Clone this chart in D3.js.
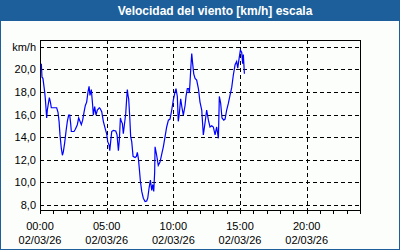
<!DOCTYPE html>
<html>
<head>
<meta charset="utf-8">
<script src="https://cdn.jsdelivr.net/npm/d3@7"></script>
<style>
  html, body { margin: 0; padding: 0; background: #fcfefc; }
  svg { display: block; }
  text { font-family: "Liberation Sans", Arial, sans-serif; }
</style>
</head>
<body>
<div id="chart"></div>
<script>
// wind speed samples, hours since 02/03/26 00:00
const hours = [0.10,0.15,0.22,0.35,0.40,0.50,0.55,0.70,0.78,0.85,
  1.10,1.25,1.35,1.43,1.50,1.60,1.68,1.75,1.85,1.95,
  2.05,2.15,2.23,2.30,2.35,2.55,2.65,2.80,2.90,3.00,
  3.10,3.20,3.30,3.40,3.50,3.60,3.68,3.75,3.85,3.95,
  4.00,4.10,4.20,4.30,4.45,4.50,4.63,4.75,4.88,5.00,
  5.08,5.18,5.23,5.30,5.38,5.50,5.68,5.78,5.88,5.95,
  6.03,6.10,6.18,6.25,6.33,6.43,6.50,6.55,6.60,6.65,
  6.73,6.80,6.88,6.98,7.13,7.23,7.30,7.38,7.45,7.53,
  7.63,7.75,7.88,8.00,8.08,8.18,8.28,8.38,8.45,8.53,
  8.60,8.63,8.75,8.87,9.00,9.13,9.25,9.38,9.50,9.63,
  9.75,9.88,10.00,10.13,10.20,10.30,10.37,10.45,10.55,10.65,
  10.75,10.88,10.95,11.05,11.15,11.20,11.25,11.33,11.38,11.45,
  11.53,11.63,11.75,11.88,12.00,12.13,12.25,12.38,12.50,12.63,
  12.75,12.88,13.00,13.13,13.25,13.38,13.45,13.55,13.65,13.78,
  13.88,14.00,14.13,14.25,14.38,14.50,14.63,14.75,14.83,14.95,
  15.03,15.13,15.20,15.25,15.33];

const speed = [20.5,19.3,19.2,18.0,17.4,15.7,16.4,17.5,17.1,16.6,
  16.6,16.6,16.2,15.4,14.2,13.0,12.4,12.7,13.5,14.5,
  15.4,15.95,15.95,15.2,14.5,14.5,14.7,15.1,15.7,15.4,
  15.1,15.5,16.2,16.8,17.1,18.0,18.5,17.7,18.2,16.8,
  15.95,16.7,15.95,16.4,16.6,16.55,16.25,15.4,14.8,14.3,
  13.6,13.3,12.8,13.6,14.5,14.6,14.55,14.2,12.8,13.75,
  15.7,15.4,15.2,14.3,15.1,16.1,17.4,18.2,17.7,17.4,
  15.8,14.05,13.6,12.3,12.2,12.3,12.65,12.1,11.2,10.1,
  9.2,8.6,8.3,8.35,8.6,9.5,10.2,9.3,9.8,9.2,
  10.9,13.15,12.4,11.5,11.8,12.5,13.15,14.05,14.9,15.5,
  15.6,16.4,17.3,18.0,18.3,17.6,15.4,16.1,17.4,16.6,
  15.95,16.8,17.6,18.3,18.3,17.9,18.8,20.5,21.4,20.5,
  19.6,19.2,19.05,18.3,17.1,16.4,14.2,15.3,16.4,15.5,
  14.9,15.0,14.9,14.2,14.9,13.9,17.6,17.0,15.7,15.5,
  15.6,16.4,17.0,17.7,18.4,19.5,20.4,20.7,20.1,21.1,
  21.7,21.5,20.5,21.3,19.6];

const yTicks = [8, 10, 12, 14, 16, 18, 20, 22];
const xTicks = [0, 5, 10, 15, 20];
const dateLabel = '02/03/26';
const title = 'Velocidad del viento [km/h] escala';

const width = 400, height = 250;
const blue = '#1d5f9b';
const plot = {left: 40, right: 360, top: 40, bottom: 210};

const svg = d3.select('#chart').append('svg')
  .attr('width', width)
  .attr('height', height);

svg.append('rect')
  .attr('x', 0.5).attr('y', 0.5)
  .attr('width', width - 1).attr('height', height - 1)
  .attr('fill', '#fcfefc')
  .attr('stroke', blue);

svg.append('rect')
  .attr('x', 0).attr('y', 0)
  .attr('width', width).attr('height', 21)
  .attr('fill', blue);

svg.append('text')
  .attr('x', 215).attr('y', 15)
  .attr('text-anchor', 'middle')
  .attr('fill', '#ffffff')
  .attr('font-weight', 'bold')
  .attr('font-size', '12px')
  .text(title);

const x = d3.scaleLinear().domain([0, 24]).range([plot.left, plot.right]);
const y = d3.scaleLinear().domain([8, 22]).range([205, 46.7]);

// grid
const grid = svg.append('g')
  .attr('stroke', '#000')
  .attr('stroke-dasharray', '4,3')
  .attr('shape-rendering', 'crispEdges');

grid.selectAll('.hgrid')
  .data(yTicks)
  .enter().append('line')
  .attr('class', 'hgrid')
  .attr('x1', plot.left).attr('x2', plot.right)
  .attr('y1', (d) => Math.round(y(d)) + 0.5)
  .attr('y2', (d) => Math.round(y(d)) + 0.5);

grid.selectAll('.vgrid')
  .data(xTicks.filter((d) => d > 0))
  .enter().append('line')
  .attr('class', 'vgrid')
  .attr('y1', plot.top).attr('y2', plot.bottom)
  .attr('x1', (d) => Math.round(x(d)) + 0.5)
  .attr('x2', (d) => Math.round(x(d)) + 0.5);

// data line
const line = d3.line()
  .x((d, i) => x(hours[i]))
  .y((d) => y(d));

svg.append('path')
  .datum(speed)
  .attr('fill', 'none')
  .attr('stroke', '#0000ff')
  .attr('stroke-width', 1.2)
  .attr('d', line);

// frame
svg.append('rect')
  .attr('x', plot.left + 0.5).attr('y', plot.top + 0.5)
  .attr('width', plot.right - plot.left).attr('height', plot.bottom - plot.top)
  .attr('fill', 'none')
  .attr('stroke', '#000')
  .attr('shape-rendering', 'crispEdges');

// hourly ticks under the axis
svg.append('g')
  .attr('stroke', '#000')
  .attr('shape-rendering', 'crispEdges')
  .selectAll('line')
  .data(d3.range(0, 25))
  .enter().append('line')
  .attr('x1', (d) => Math.round(x(d)) + 0.5)
  .attr('x2', (d) => Math.round(x(d)) + 0.5)
  .attr('y1', plot.bottom).attr('y2', plot.bottom + 4);

// y labels
svg.append('g')
  .selectAll('text')
  .data(yTicks)
  .enter().append('text')
  .attr('x', 36)
  .attr('y', (d) => y(d) + 4)
  .attr('text-anchor', 'end')
  .attr('font-size', '11px')
  .attr('fill', '#000')
  .text((d) => d === 22 ? 'km/h' : d3.format('.1f')(d).replace('.', ','));

// x labels
const xl = svg.append('g')
  .selectAll('g')
  .data(xTicks)
  .enter().append('g')
  .attr('transform', (d) => 'translate(' + x(d) + ',0)');

xl.append('text')
  .attr('y', 229.5)
  .attr('text-anchor', 'middle')
  .attr('font-size', '11px')
  .text((d) => d3.format('02d')(d) + ':00');

xl.append('text')
  .attr('y', 244)
  .attr('text-anchor', 'middle')
  .attr('font-size', '11px')
  .text(dateLabel);
</script>
</body>
</html>
